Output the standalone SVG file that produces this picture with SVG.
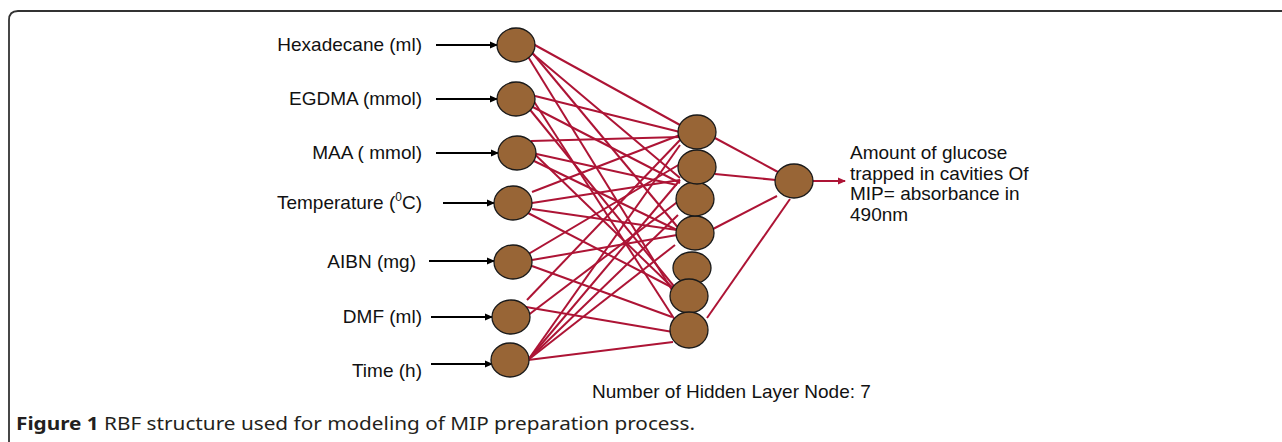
<svg xmlns="http://www.w3.org/2000/svg" width="1282" height="442" viewBox="0 0 1282 442">
<style>
.lbl{font-family:"Liberation Sans",Arial,sans-serif;font-size:19px;fill:#111}
.cap{font-family:"Noto Sans","Open Sans","Liberation Sans",sans-serif;font-size:18px;fill:#231f20}
.nd{fill:#986536;stroke:#1a1a1a;stroke-width:1.3}
.in{stroke:#000;stroke-width:2;fill:none;marker-end:url(#ab)}
.w{stroke:#ad1435;stroke-width:2;fill:none}
</style>
<defs>
<marker id="ab" markerWidth="8" markerHeight="8" refX="7" refY="4" orient="auto" markerUnits="userSpaceOnUse"><path d="M0,0.5 L8,4 L0,7.5 Z" fill="#000"/></marker>
<marker id="ar" markerWidth="8" markerHeight="8" refX="7" refY="4" orient="auto" markerUnits="userSpaceOnUse"><path d="M0,0.5 L8,4 L0,7.5 Z" fill="#ad1435"/></marker>
</defs>
<rect width="1282" height="442" fill="#fff"/>
<path d="M9,442 V20 Q9,11 18,11 H1282" fill="none" stroke="#333" stroke-width="1.8"/>
<g id="connectors">
<line class="in" x1="436" y1="45" x2="497" y2="45"/>
<line class="in" x1="436" y1="99" x2="497" y2="99"/>
<line class="in" x1="436" y1="153" x2="498" y2="153"/>
<line class="in" x1="443" y1="203" x2="494" y2="203"/>
<line class="in" x1="429" y1="261" x2="494" y2="261"/>
<line class="in" x1="431" y1="317" x2="492" y2="317"/>
<line class="in" x1="431" y1="364" x2="492" y2="364"/>
<g class="w">
<line x1="533" y1="44" x2="680" y2="125"/>
<line x1="527" y1="49" x2="680" y2="178"/>
<line x1="530" y1="50" x2="680" y2="230"/>
<line x1="527" y1="55" x2="672" y2="290"/>
<line x1="535" y1="96" x2="680" y2="132"/>
<line x1="527" y1="104" x2="680" y2="183"/>
<line x1="527" y1="106" x2="677" y2="290"/>
<line x1="533" y1="100" x2="675" y2="320"/>
<line x1="531" y1="141" x2="680" y2="137"/>
<line x1="520" y1="140" x2="675" y2="290"/>
<line x1="532" y1="153" x2="677" y2="185"/>
<line x1="532" y1="160" x2="677" y2="230"/>
<line x1="532" y1="192" x2="680" y2="135"/>
<line x1="532" y1="203" x2="680" y2="180"/>
<line x1="532" y1="209" x2="677" y2="230"/>
<line x1="528" y1="213" x2="677" y2="290"/>
<line x1="525" y1="256" x2="680" y2="164"/>
<line x1="532" y1="260" x2="677" y2="235"/>
<line x1="532" y1="266" x2="672" y2="317"/>
<line x1="527" y1="300" x2="680" y2="140"/>
<line x1="520" y1="306" x2="673" y2="332"/>
<line x1="527" y1="316" x2="680" y2="200"/>
<line x1="528" y1="360" x2="680" y2="145"/>
<line x1="528" y1="360" x2="680" y2="180"/>
<line x1="528" y1="360" x2="678" y2="215"/>
<line x1="528" y1="360" x2="675" y2="245"/>
<line x1="528" y1="360" x2="673" y2="342"/>
<line x1="715" y1="138" x2="778" y2="172"/>
<line x1="715" y1="174" x2="776" y2="180"/>
<line x1="713" y1="229" x2="777" y2="196"/>
<line x1="707" y1="318" x2="790" y2="199"/>
<line x1="813" y1="181" x2="845" y2="181" marker-end="url(#ar)"/>
</g>
</g>
<g id="input1"><ellipse class="nd" cx="516" cy="45" rx="19" ry="17"/><text class="lbl" x="422" y="51" text-anchor="end">Hexadecane (ml)</text></g>
<g id="input2"><ellipse class="nd" cx="516" cy="99" rx="19" ry="17"/><text class="lbl" x="422" y="105" text-anchor="end">EGDMA (mmol)</text></g>
<g id="input3"><ellipse class="nd" cx="517" cy="153" rx="19" ry="17"/><text class="lbl" x="422" y="159" text-anchor="end">MAA ( mmol)</text></g>
<g id="input4"><ellipse class="nd" cx="513" cy="203" rx="19" ry="17"/><text class="lbl" x="422" y="209" text-anchor="end">Temperature (<tspan font-size="12" dy="-8">0</tspan><tspan dy="8">C)</tspan></text></g>
<g id="input5"><ellipse class="nd" cx="513" cy="262" rx="19" ry="17"/><text class="lbl" x="416" y="268" text-anchor="end">AIBN (mg)</text></g>
<g id="input6"><ellipse class="nd" cx="511" cy="317" rx="19" ry="17"/><text class="lbl" x="422" y="323" text-anchor="end">DMF (ml)</text></g>
<g id="input7"><ellipse class="nd" cx="510" cy="360" rx="19" ry="17"/><text class="lbl" x="422" y="377" text-anchor="end">Time (h)</text></g>
<g id="hidden5"><ellipse class="nd" cx="692" cy="268" rx="19" ry="16"/></g>
<g id="hidden6"><ellipse class="nd" cx="689" cy="296" rx="19" ry="17"/></g>
<g id="hidden7"><ellipse class="nd" cx="689" cy="330" rx="19" ry="18"/></g>
<g id="hidden4"><ellipse class="nd" cx="695" cy="233" rx="19" ry="17"/></g>
<g id="hidden3"><ellipse class="nd" cx="695" cy="199" rx="19" ry="17"/></g>
<g id="hidden2"><ellipse class="nd" cx="697" cy="167" rx="19" ry="17"/></g>
<g id="hidden1"><ellipse class="nd" cx="697" cy="132" rx="19" ry="17"/></g>
<g id="output"><ellipse class="nd" cx="794" cy="181" rx="19" ry="17"/></g>
<g id="output-label"><text class="lbl" x="850" y="159">Amount of glucose</text><text class="lbl" x="850" y="180">trapped in cavities Of</text><text class="lbl" x="850" y="200">MIP= absorbance in</text><text class="lbl" x="850" y="221">490nm</text></g>
<text class="lbl" x="592" y="398">Number of Hidden Layer Node: 7</text>
<text class="cap" x="16" y="430" textLength="679" lengthAdjust="spacingAndGlyphs"><tspan font-weight="bold">Figure 1</tspan> RBF structure used for modeling of MIP preparation process.</text>
</svg>
